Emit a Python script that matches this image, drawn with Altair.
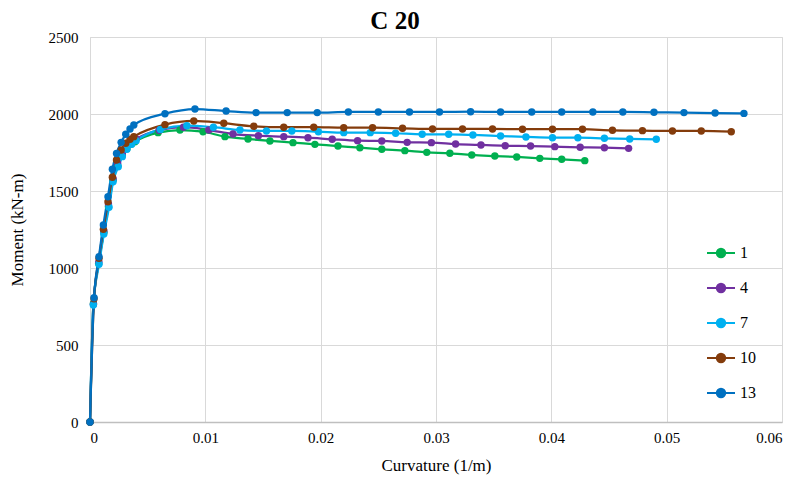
import altair as alt
import pandas as pd

series_names = ["1", "4", "7", "10", "13"]
colors = ["#00B050", "#7030A0", "#00B0F0", "#843C0C", "#0070C0"]

curv_1 = [0, 0.0003, 0.00075, 0.0012, 0.0016, 0.002, 0.0024, 0.0028, 0.0032, 0.0036, 0.0039,
          0.0059, 0.0078, 0.0098, 0.0117, 0.0137, 0.0156, 0.0176, 0.0195, 0.0215, 0.0234,
          0.0253, 0.0273, 0.0292, 0.0312, 0.0331, 0.0351, 0.0370, 0.0390, 0.0409, 0.0429]
mom_1 = [0, 770, 1030, 1230, 1400, 1570, 1665, 1730, 1775, 1805, 1820,
         1879, 1896, 1885, 1853, 1838, 1825, 1814, 1803, 1792, 1781,
         1771, 1762, 1751, 1745, 1734, 1727, 1721, 1712, 1706, 1697]

curv_4 = [0, 0.0003, 0.00077, 0.0012, 0.0016, 0.002, 0.0024, 0.0028, 0.0032, 0.0036, 0.004,
          0.006, 0.0081, 0.0103, 0.0124, 0.0146, 0.0168, 0.0189, 0.0210, 0.0232, 0.0253,
          0.0275, 0.0296, 0.0317, 0.0339, 0.0360, 0.0382, 0.0403, 0.0425, 0.0446, 0.0467]
mom_4 = [0, 765, 1040, 1240, 1415, 1580, 1680, 1745, 1790, 1820, 1838,
         1895, 1914, 1896, 1870, 1859, 1853, 1846, 1836, 1827, 1825,
         1816, 1814, 1805, 1799, 1794, 1792, 1788, 1784, 1781, 1777]

curv_7 = [0, 0.00029, 0.00078, 0.0012, 0.00165, 0.002, 0.00245, 0.0028, 0.0032, 0.0036, 0.004,
          0.0061, 0.0084, 0.0107, 0.0130, 0.0153, 0.0175, 0.0198, 0.0220, 0.0243, 0.0265,
          0.0288, 0.0311, 0.0332, 0.0356, 0.0378, 0.0401, 0.0423, 0.0446, 0.0468, 0.0491]
mom_7 = [0, 760, 1024, 1221, 1394, 1560, 1658, 1723, 1771, 1803, 1827,
         1900, 1924, 1914, 1896, 1890, 1890, 1885, 1879, 1879, 1875,
         1868, 1868, 1864, 1857, 1851, 1846, 1846, 1842, 1838, 1836]

curv_10 = [0, 0.00035, 0.00078, 0.00116, 0.00156, 0.00194, 0.0023, 0.0027, 0.0031, 0.00347, 0.0038,
           0.0065, 0.0090, 0.0116, 0.0142, 0.0168, 0.0194, 0.0220, 0.0245, 0.0271, 0.0297,
           0.0323, 0.0349, 0.0375, 0.0401, 0.0427, 0.0453, 0.0479, 0.0505, 0.0530, 0.0556]
mom_10 = [0, 800, 1063, 1251, 1430, 1589, 1701, 1766, 1810, 1836, 1853,
          1931, 1955, 1940, 1920, 1914, 1914, 1911, 1911, 1907, 1903,
          1903, 1903, 1901, 1901, 1901, 1894, 1892, 1890, 1890, 1885]

curv_13 = [0, 0.00035, 0.00078, 0.00116, 0.00156, 0.00194, 0.0023, 0.0027, 0.0031, 0.00347, 0.0038,
           0.0065, 0.0091, 0.0118, 0.0144, 0.0171, 0.0197, 0.0224, 0.0250, 0.0277, 0.0303,
           0.0330, 0.0356, 0.0383, 0.0409, 0.0436, 0.0462, 0.0489, 0.0515, 0.0542, 0.0567]
mom_13 = [0, 807, 1073, 1279, 1463, 1641, 1744, 1816, 1868, 1903, 1929,
          2002, 2032, 2019, 2009, 2009, 2009, 2013, 2013, 2013, 2013,
          2015, 2013, 2013, 2013, 2013, 2013, 2011, 2009, 2006, 2004]

all_curv = [curv_1, curv_4, curv_7, curv_10, curv_13]
all_mom = [mom_1, mom_4, mom_7, mom_10, mom_13]

rows = []
for name, cs, ms in zip(series_names, all_curv, all_mom):
    for i, (c, m) in enumerate(zip(cs, ms)):
        rows.append({"series": name, "curv": c, "mom": m, "idx": i})
df = pd.DataFrame(rows)

FONT = "Liberation Serif"
legend_symbol = ("M-1,0L1,0M-0.3,0A0.3,0.3 0 1,1 0.3,0A0.3,0.3 0 1,1 -0.3,0Z")

x_enc = alt.X("curv:Q",
              scale=alt.Scale(domain=[0, 0.06], nice=False),
              axis=alt.Axis(title="Curvature (1/m)", values=[0, 0.01, 0.02, 0.03, 0.04, 0.05, 0.06],
                            format=".2~f", grid=True, gridColor="#d9d9d9", ticks=False,
                            domainColor="#bfbfbf", domainWidth=1.5, labelPadding=8,
                            labelFlush=True,
                            titlePadding=12, labelFont=FONT, labelFontSize=15, labelColor="#000",
                            titleFont=FONT, titleFontSize=17, titleFontWeight="normal", titleColor="#000"))
y_enc = alt.Y("mom:Q",
              scale=alt.Scale(domain=[0, 2500], nice=False),
              axis=alt.Axis(title="Moment (kN-m)", values=[0, 500, 1000, 1500, 2000, 2500],
                            format="d", grid=True, gridColor="#d9d9d9", ticks=False, domain=False,
                            labelPadding=12, titlePadding=22, labelFont=FONT, labelFontSize=15,
                            labelColor="#000", titleFont=FONT, titleFontSize=17,
                            titleFontWeight="normal", titleColor="#000"))
color_enc = alt.Color("series:N",
                      scale=alt.Scale(domain=series_names, range=colors),
                      sort=series_names,
                      legend=alt.Legend(title=None, orient="none", legendX=616, legendY=201,
                                        symbolType=legend_symbol, symbolSize=784,
                                        symbolStrokeWidth=2, symbolOpacity=1,
                                        labelFont=FONT, labelFontSize=16, labelColor="#000",
                                        rowPadding=11, labelOffset=4))

base = alt.Chart(df)
lines = base.mark_line(interpolate="monotone", strokeWidth=2.25).encode(
    x=x_enc, y=y_enc, color=color_enc, detail="series:N", order="idx:Q")
points = base.mark_point(filled=True, size=55, opacity=1).encode(
    x="curv:Q", y="mom:Q", color=alt.Color("series:N", scale=alt.Scale(domain=series_names, range=colors), legend=None))

chart = alt.layer(lines, points).properties(
    width=692, height=385,
    title=alt.TitleParams("C 20", font=FONT, fontSize=25, fontWeight="bold", color="#000",
                          anchor="middle", frame="bounds", offset=8, dy=12),
    autosize=alt.AutoSizeParams(type="none"),
    padding={"left": 82, "top": 29, "right": 10, "bottom": 53},
).configure_view(stroke=None).configure(background="white")

chart.save("out.html", embed_options={"renderer": "svg", "actions": False})
